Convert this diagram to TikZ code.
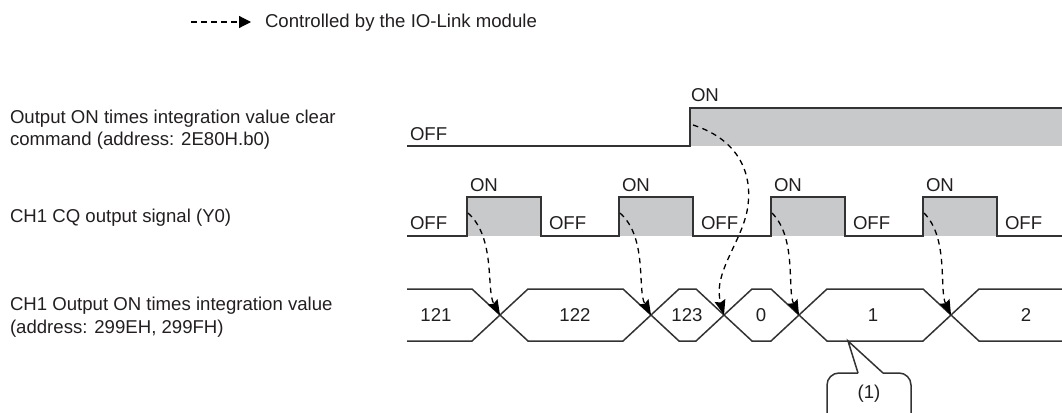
\documentclass[tikz,border=0pt]{standalone}
\usepackage{fontspec}
\setmainfont{Liberation Sans}
\usetikzlibrary{arrows.meta}
\definecolor{linec}{HTML}{333333}
\definecolor{gfill}{HTML}{C8C9CB}
\definecolor{textc}{HTML}{231F20}
\begin{document}
\begin{tikzpicture}[x=1pt,y=-1pt,
  every node/.style={inner sep=0pt,outer sep=0pt,text=textc,font=\fontsize{18.6}{22.5}\selectfont},
  lbl/.style={anchor=base west},
  ctr/.style={anchor=center},
  sig/.style={draw=linec,line width=1.5pt,line join=miter},
  shade/.style={fill=gfill},
  ctl/.style={draw=black,line width=1.3pt,dash pattern=on 5.5pt off 4.5pt,
    -{Stealth[length=15pt,width=11pt,inset=2pt]}}]
\useasboundingbox (0,0) rectangle (1062,412);
\clip (0,0) rectangle (1062,412);

% legend
\coordinate (lga) at (191,22);
\coordinate (lgb) at (251,22);
\draw[black,line width=1.2pt,dash pattern=on 5.5pt off 4.5pt,-{Triangle[length=12pt,width=12pt]}] (lga) -- (lgb);
\node[lbl] (lgt) at (265,28) {Controlled by the IO-Link module};

% left labels
\node[lbl] (l1a) at (10,123) {Output ON times integration value clear};
\node[lbl] (l1b) at (10,145.5) {command (address: 2E80H.b0)};
\node[lbl] (l2) at (10,222) {CH1 CQ output signal (Y0)};
\node[lbl] (l3a) at (10,310.5) {CH1 Output ON times integration value};
\node[lbl] (l3b) at (10,333) {(address: 299EH, 299FH)};

% clear command signal
\fill[shade] (690,108) rectangle (1070,146);
\draw[sig] (407,146) -- (690,146) -- (690,108) -- (1070,108);
\node[lbl] (c-off) at (410,140) {OFF};
\node[lbl] (c-on) at (691,101) {ON};

% CQ output signal
\foreach \a/\b in {467/541,619/693,771/845,923/997}{
  \fill[shade] (\a,197) rectangle (\b,236);
  \node[lbl] at (\a+3,191.5) {ON};
  \node[lbl] at (\b+8,229) {OFF};
}
\draw[sig] (407,236) -- (467,236) -- (467,197) -- (541,197) -- (541,236)
  -- (619,236) -- (619,197) -- (693,197) -- (693,236)
  -- (771,236) -- (771,197) -- (845,197) -- (845,236)
  -- (923,236) -- (923,197) -- (997,197) -- (997,236) -- (1070,236);
\node[lbl] (q-off) at (410,229) {OFF};

% integration value bus
\coordinate (x1) at (500,315);
\coordinate (x2) at (651,315);
\coordinate (x3) at (724,315);
\coordinate (x4) at (799,315);
\coordinate (x5) at (951,315);
\draw[sig] (407,289) -- (472,289) -- (x1) -- (472,341) -- (407,341);
\draw[sig] (x1) -- (528,289) -- (623,289) -- (x2) -- (623,341) -- (528,341) -- cycle;
\draw[sig] (x2) -- (679,289) -- (696,289) -- (x3) -- (696,341) -- (679,341) -- cycle;
\draw[sig] (x3) -- (752,289) -- (771,289) -- (x4) -- (771,341) -- (752,341) -- cycle;
\draw[sig] (x4) -- (827,289) -- (923,289) -- (x5) -- (923,341) -- (827,341) -- cycle;
\draw[sig] (1070,289) -- (979,289) -- (x5) -- (979,341) -- (1070,341);
\node[ctr] (v121) at (436,315) {121};
\node[ctr] (v122) at (575,315) {122};
\node[ctr] (v123) at (687,315) {123};
\node[ctr] (v0) at (761,315) {0};
\node[ctr] (v1) at (873,315) {1};
\node[ctr] (v2) at (1026,315) {2};

% controlled arrows
\coordinate (s1) at (468,213);
\coordinate (s2) at (620,213);
\coordinate (s3) at (772,213);
\coordinate (s4) at (924,213);
\coordinate (s0) at (693,125);
\draw[ctl] (s1) .. controls +(28,25) and +(-14,-25) .. (x1);
\draw[ctl] (s2) .. controls +(28,25) and +(-14,-25) .. (x2);
\draw[ctl] (s3) .. controls +(25,25) and +(-12,-25) .. (x4);
\draw[ctl] (s4) .. controls +(25,25) and +(-12,-25) .. (x5);
\draw[ctl] (s0) .. controls (740,140) and (752,175) .. (748,205)
  .. controls (744,240) and (712,272) .. (x3);

% callout (1)
\coordinate (cp) at (848,341);
\fill[white] (858,373) -- (cp) -- (883,373) -- cycle;
\draw[sig,fill=white,rounded corners=12pt] (858,373) -- (827,373) -- (827,440) -- (911,440) -- (911,373) -- (883,373);
\draw[sig] (858,373) -- (cp) -- (883,373);
\node[ctr] (co) at (869,394) {(1)};
\end{tikzpicture}
\end{document}
